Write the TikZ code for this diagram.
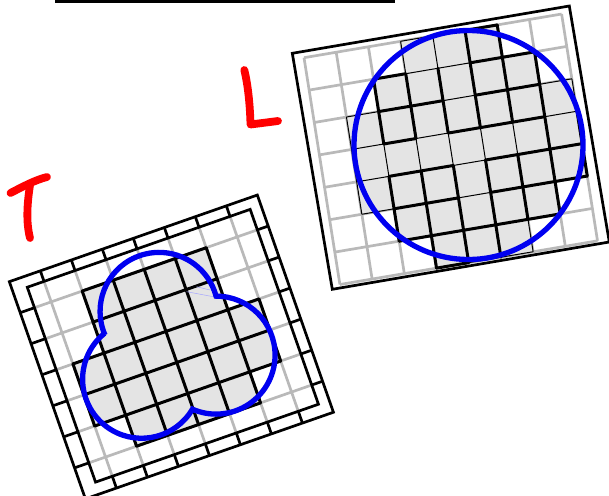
\documentclass[tikz,border=0pt]{standalone}
\definecolor{gridgray}{HTML}{B9B9B9}
\definecolor{cellfill}{HTML}{E4E4E4}
\definecolor{bluecurve}{HTML}{0000F0}
\definecolor{redpen}{HTML}{FF0000}
\tikzset{
  graygrid/.style={draw=gridgray,line width=2.7pt},
  thickblk/.style={draw=black,line width=3pt,line cap=round},
  thinblk/.style={draw=black,line width=1pt},
  framed/.style={draw=black,line width=2.7pt,line join=miter},
  bluepen/.style={draw=bluecurve,line width=5.3pt,line join=miter},
  redstroke/.style={draw=redpen,line width=7.8pt,line cap=round,line join=round},
  px/.style={x=1pt,y=-1pt},
  leftgrid/.style={x={(31pt,10.83pt)},y={(10.87pt,-31.03pt)},shift={(9.33pt,-281.67pt)}},
  rightgrid/.style={x={(32.2pt,5.46pt)},y={(5.13pt,-32.4pt)},shift={(304pt,-57.7pt)}}
}
\begin{document}
\begin{tikzpicture}
\useasboundingbox (0pt,0pt) rectangle (609pt,-495pt);
\clip (0pt,0pt) rectangle (609pt,-495pt);
\begin{scope}[px]
  \fill (54.5,0) rectangle (394.5,2.7);
  \draw[redstroke] (244.3,70) .. controls (248,85) and (250,105) .. (250.5,124.5) -- (278,121);
  \draw[redstroke] (10.5,193) .. controls (22,187) and (35,180) .. (47,177);
  \draw[redstroke] (30,185) .. controls (27,205) and (26,222) .. (30,238);
\end{scope}
% ---------- left figure
\begin{scope}[leftgrid]
  \foreach \u in {1,...,7} {
    \draw[graygrid] (\u,0.34) -- (\u,6.62);
    \draw[framed] (\u,0) -- (\u,0.34) (\u,6.62) -- (\u,7);
  }
  \foreach \v in {1,...,6} {
    \draw[graygrid] (0.46,\v) -- (7.65,\v);
    \draw[framed] (0,\v) -- (0.46,\v) (7.65,\v) -- (8,\v);
  }
  \fill[cellfill] (2,1) -- (6,1) -- (6,3) -- (7,3) -- (7,5) -- (6,5) -- (6,6) -- (2,6) -- (2,5) -- (1,5) -- (1,3) -- (2,3) -- cycle;
  \foreach \u in {2,...,6} \draw[thickblk] (\u,1) -- (\u,6);
  \foreach \v in {1,2,6} \draw[thickblk] (2,\v) -- (6,\v);
  \foreach \v in {3,4,5} \draw[thickblk] (1,\v) -- (7,\v);
  \draw[thickblk] (1,3) -- (1,5) (7,3) -- (7,5);
  \draw[framed] (0,0) -- (8,0) -- (8,7) -- (0,7) -- cycle;
  \draw[framed] (0.46,0.34) -- (7.65,0.34) -- (7.65,6.62) -- (0.46,6.62) -- cycle;
\end{scope}
\begin{scope}[px]
  \draw[blue!35,line width=0.5pt] (186.7,291.7) -- (213.3,296.7) (196.7,286.7) -- (210,290);
  \draw[bluepen] (105,335) arc[start angle=156.4,end angle=345,radius=59]
     arc[start angle=270,end angle=473.6,radius=59]
     arc[start angle=30.5,end angle=230.8,radius=59] -- cycle;
\end{scope}
% ---------- right figure
\begin{scope}[rightgrid]
  \foreach \u in {0,...,8} \draw[graygrid] (\u,0) -- (\u,7);
  \foreach \v in {0,...,7} \draw[graygrid] (0,\v) -- (8,\v);
  \fill[cellfill] (3,0) -- (6,0) -- (6,1) -- (7,1) -- (7,2) -- (8,2) -- (8,5) -- (7,5) -- (7,6) -- (6,6) -- (6,7) -- (3,7) -- (3,6) -- (2,6) -- (2,5) -- (1,5) -- (1,2) -- (2,2) -- (2,1) -- (3,1) -- cycle;
  % thin segments
  \foreach \a/\b/\c/\d in {1/2/1/5, 2/3/2/4, 3/0/3/1, 3/3/3/4, 4/0/4/1, 4/3/4/4, 5/3/5/4, 6/3/6/4, 6/6/6/7, 8/2/8/3,
     3/1/5/1, 1/2/2/2, 4/2/5/2, 7/2/8/2, 1/3/2/3, 3/3/4/3, 7/3/8/3, 1/4/2/4, 4/4/5/4, 1/5/2/5, 4/5/5/5, 4/7/6/7, 3/0/5/0}
    \draw[thinblk] (\a,\b) -- (\c,\d);
  % thick segments
  \foreach \a/\b/\c/\d in {2/1/2/3, 2/4/2/6, 3/1/3/3, 3/4/3/7, 4/1/4/3, 4/4/4/7, 5/0/5/3, 5/4/5/7, 6/0/6/3, 6/4/6/6, 7/1/7/6, 8/3/8/5,
     2/1/3/1, 5/1/7/1, 2/2/4/2, 5/2/7/2, 2/3/3/3, 4/3/7/3, 2/4/4/4, 5/4/8/4, 2/5/4/5, 5/5/8/5, 2/6/7/6, 3/7/4/7, 5/0/6/0}
    \draw[thickblk] (\a,\b) -- (\c,\d);
\end{scope}
\begin{scope}[px]
  \draw[framed] (292.3,53.3) -- (569.3,6) -- (609.3,242) -- (332.3,289.3) -- cycle;
  \draw[bluepen] (468.5,145) circle[radius=114.5];
\end{scope}
\end{tikzpicture}
\end{document}
